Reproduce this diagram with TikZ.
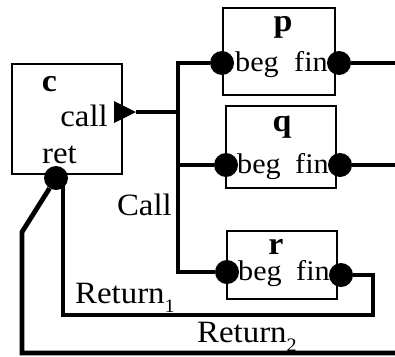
\documentclass[tikz,border=0pt]{standalone}
\usepackage{fontspec}
\setmainfont{Liberation Serif}[FakeStretch=1.06]
\begin{document}
\begin{tikzpicture}[x=1pt,y=-1pt,
  box/.style={draw,line width=1.6pt,inner sep=0pt},
  wire/.style={line width=4.8pt},
  dotn/.style={circle,fill,inner sep=0pt,minimum size=24pt},
  lbl/.style={inner sep=0pt,font=\fontsize{31}{31}\selectfont},
  port/.style={inner sep=0pt,font=\fontsize{28.5}{28.5}\selectfont},
  ttl/.style={inner sep=0pt,font=\fontsize{32}{32}\selectfont\bfseries}]
\useasboundingbox (0,0) rectangle (395,356);
% boxes
\node[box,minimum width=110pt,minimum height=110pt] (c) at (67,119) {};
\node[box,minimum width=112pt,minimum height=87pt] (p) at (279,51.5) {};
\node[box,minimum width=110pt,minimum height=82pt] (q) at (281,147) {};
\node[box,minimum width=110pt,minimum height=68pt] (r) at (282,265) {};
% labels
\node[ttl,anchor=base] (cl) at (49.5,91) {c};
\node[lbl,anchor=base east] (callt) at (108,126) {call};
\node[lbl,anchor=base west] (rett) at (42,163) {ret};
\node[ttl,anchor=base] (pl) at (283,31) {p};
\node[ttl,anchor=base] (ql) at (282,131) {q};
\node[ttl,anchor=base] (rl) at (276,254) {r};
\node[port,anchor=base west] (pbeg) at (235,71) {beg};
\node[port,anchor=base east] (pfin) at (328,71) {fin};
\node[port,anchor=base west] (qbeg) at (237,173) {beg};
\node[port,anchor=base east] (qfin) at (329,173) {fin};
\node[port,anchor=base west] (rbeg) at (238,280) {beg};
\node[port,anchor=base east] (rfin) at (330,280) {fin};
\node[lbl,anchor=base east] (callL) at (172,215) {Call};
\node[lbl,anchor=base west] (ret1) at (75,303) {Return\raisebox{-9pt}{\fontsize{19}{19}\selectfont 1}};
\node[lbl,anchor=base west] (ret2) at (197,342) {Return\raisebox{-9pt}{\fontsize{19}{19}\selectfont 2}};
% ports
\node[dotn] (pb) at (222,63) {};
\node[dotn] (pf) at (339,63) {};
\node[dotn] (qb) at (226,165) {};
\node[dotn] (qf) at (340,165) {};
\node[dotn] (rb) at (227,272) {};
\node[dotn] (rf) at (341,275) {};
\node[dotn] (ret) at (56,178) {};
\fill (114,101) -- (114,123) -- (136,112) -- cycle;
\coordinate (calltip) at (136,112);
% coordinates
\coordinate (bustop) at (178,63);
\coordinate (busbot) at (178,272);
\coordinate (pout) at (395,63);
\coordinate (qout) at (395,165);
\coordinate (r1a) at (373,275);
\coordinate (r1b) at (373,315);
\coordinate (r1c) at (63,315);
\coordinate (r1d) at (63,178);
\coordinate (r2a) at (22,232);
\coordinate (r2b) at (22,353);
\coordinate (r2c) at (395,353);
% wires
\draw[wire] (pb) -- (bustop) -- (busbot) -- (rb);
\draw[wire] (calltip) -- (calltip -| bustop);
\draw[wire] (qb) -- (qb -| bustop);
\draw[wire] (pf) -- (pout);
\draw[wire] (qf) -- (qout);
\draw[wire] (rf) -- (r1a) -- (r1b) -- (r1c) -- (r1d);
\draw[wire] (ret) -- (r2a) -- (r2b) -- (r2c);
\end{tikzpicture}
\end{document}
